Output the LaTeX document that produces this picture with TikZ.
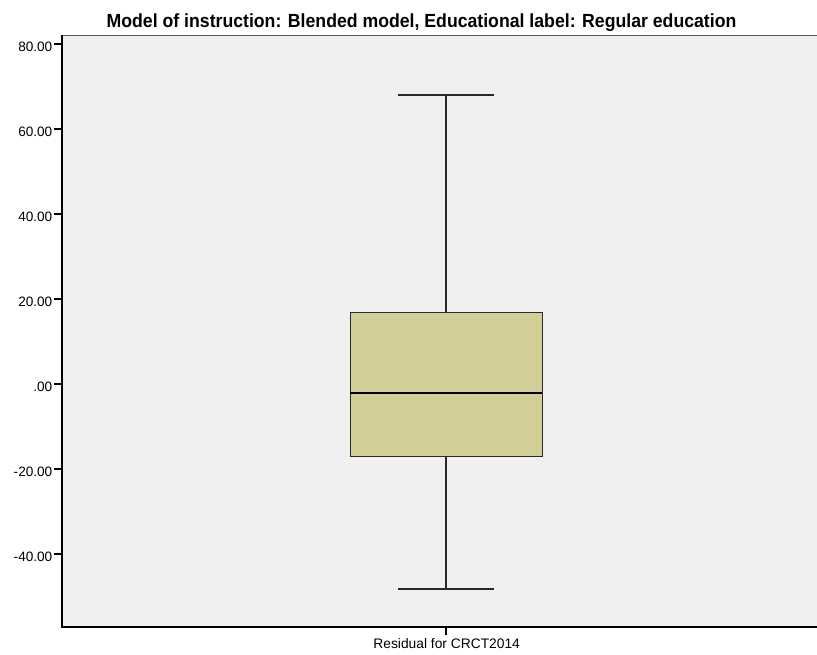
\documentclass[tikz,border=0pt]{standalone}
\usepackage{fontspec}
\setmainfont{Liberation Sans}
\newfontfamily\titlefont[FakeStretch=0.93]{Liberation Sans}
\definecolor{plotbg}{HTML}{F0F0F0}
\definecolor{boxfill}{HTML}{D3CE98}
\definecolor{frameline}{HTML}{555555}
\definecolor{whisk}{HTML}{2A2A2A}
\begin{document}
\begin{tikzpicture}[x=1pt,y=-1pt,
  ticklabel/.style={anchor=base east, inner sep=0pt, font=\fontsize{13.6}{13.6}\selectfont},
  tickmark/.style={line width=1.2pt, black},
  whisker/.style={line width=1.6pt, whisk},
  boxbody/.style={fill=boxfill, draw=whisk, line width=1pt},
  medianline/.style={line width=2.4pt, black}]
\useasboundingbox (0,0) rectangle (817,654);
\fill[white] (0,0) rectangle (817,654);

% plot area and frame
\fill[plotbg] (62,35) rectangle (817,627);
\draw[frameline, line width=1.5pt] (62,35.5) -- (817,35.5);
\draw[black, line width=1.5pt] (62,627) -- (817,627);
\draw[black, line width=1.3pt] (62,35) -- (62,627.5);

% title
\node[anchor=base, inner sep=0pt, font=\titlefont\bfseries\fontsize{19}{19}\selectfont] (title) at (421.5,27.7)
  {Model of instruction: Blended model, Educational label: Regular education};

% y axis ticks and labels
\foreach \v/\yy/\txt [count=\i] in {80/44/80.00, 60/129/60.00, 40/214/40.00, 20/299/20.00, 0/384/.00, -20/469/-20.00, -40/554/-40.00} {
  \coordinate (tk\i) at (62,\yy);
  \coordinate (tkl\i) at (54,\yy);
  \draw[tickmark] (tkl\i) -- (tk\i);
  \node[ticklabel] (yl\i) at (52.5,\yy+7) {\txt};
}

% x axis tick and category label
\coordinate (xt0) at (446,627);
\coordinate (xt1) at (446,634.5);
\draw[tickmark] (xt0) -- (xt1);
\node[anchor=base, inner sep=0pt, font=\fontsize{13.8}{13.8}\selectfont] (xlab) at (446.7,648.5) {Residual for CRCT2014};

% box plot geometry
\coordinate (capTopL) at (398,95);
\coordinate (capTopR) at (494,95);
\coordinate (wTop) at (446,95);
\coordinate (q3) at (446,312);
\coordinate (q1) at (446,456);
\coordinate (wBot) at (446,589);
\coordinate (capBotL) at (398,589);
\coordinate (capBotR) at (494,589);
\coordinate (boxTL) at (350,312);
\coordinate (boxBR) at (542,456);
\coordinate (medL) at (350,393);
\coordinate (medR) at (542,393);

% whiskers
\draw[whisker] (capTopL) -- (capTopR);
\draw[whisker] (wTop) -- (q3);
\draw[whisker] (q1) -- (wBot);
\draw[whisker] (capBotL) -- (capBotR);

% interquartile box and median
\draw[boxbody] (boxTL) rectangle (boxBR);
\draw[medianline] (medL) -- (medR);
\end{tikzpicture}
\end{document}
